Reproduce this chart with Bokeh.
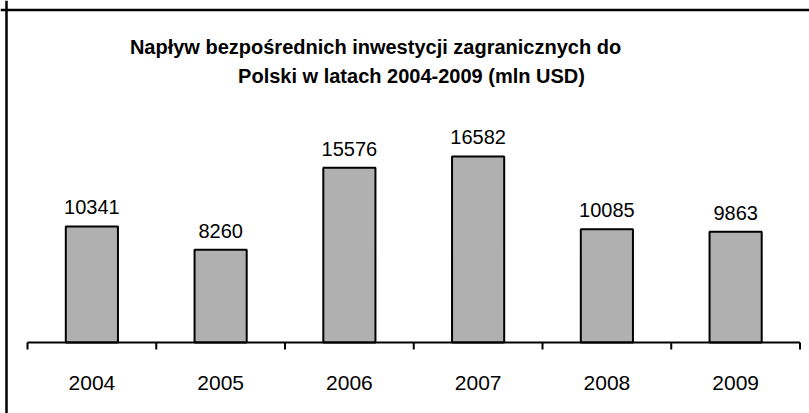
from bokeh.plotting import figure
from bokeh.models import Range1d, Span
from bokeh.core.properties import value
from bokeh.embed import file_html
from bokeh.resources import INLINE

# ---- data ----
years = ["2004", "2005", "2006", "2007", "2008", "2009"]
fdi = [10341, 8260, 15576, 16582, 10085, 9863]
title_lines = ["Napływ bezpośrednich inwestycji zagranicznych do",
               "Polski w latach 2004-2009 (mln USD)"]

# ---- layout (canvas pixels) ----
W, H = 809, 413
cat_left_px, cat_right_px = 27, 799.5
base_px = 342
units_per_px = 89.1
n = len(years)
px_per_cat = (cat_right_px - cat_left_px) / n
x_start = 0.5 - cat_left_px / px_per_cat
x_end = x_start + W / px_per_cat
y_end = base_px * units_per_px
y_start = -(H - base_px) * units_per_px


def px_x(px):
    return x_start + px / px_per_cat


def px_y(py):
    return y_end - py * units_per_px


xs = list(range(1, n + 1))
bounds = [i + 0.5 for i in range(n + 1)]

p = figure(width=W, height=H, x_range=Range1d(x_start, x_end),
           y_range=Range1d(y_start, y_end), output_backend="svg",
           toolbar_location=None, min_border=0,
           x_axis_location=None, y_axis_location=None)
p.grid.visible = False
p.outline_line_color = None
p.background_fill_color = "white"
p.border_fill_color = "white"

FONT = value("Liberation Sans")

# bars
p.vbar(x=xs, top=fdi, bottom=0, width=0.405, fill_color="#b0b0b0",
       line_color="black", line_width=2)

# baseline axis with boundary ticks
p.segment(x0=[bounds[0]], y0=[0], x1=[bounds[-1]], y1=[0],
          line_color="black", line_width=2)
p.segment(x0=bounds, y0=[0] * len(bounds), x1=bounds,
          y1=[-7 * units_per_px] * len(bounds),
          line_color="black", line_width=2)

# data labels
p.text(x=xs, y=fdi, text=[str(v) for v in fdi], text_align="center",
       text_baseline="alphabetic", y_offset=-19, text_font=FONT,
       text_font_size=value("20px"), text_color="black")

# category labels
p.text(x=xs, y=[0] * n, text=years, text_align="center",
       text_baseline="alphabetic", y_offset=40, text_font=FONT,
       text_font_size=value("21px"), text_color="black")

# title
p.text(x=[px_x(375), px_x(411)], y=[px_y(46), px_y(75)], text=title_lines,
       text_align="center", text_baseline="alphabetic", text_font=FONT,
       text_font_style="bold", text_font_size=value("20px"),
       text_color="black")

# chart border (top and left)
p.add_layout(Span(location=px_x(6), dimension="height",
                  line_color="black", line_width=2.5))
p.add_layout(Span(location=px_y(9.5), dimension="width",
                  line_color="black", line_width=2.5))

open("out.html", "w").write(file_html(p, INLINE))
